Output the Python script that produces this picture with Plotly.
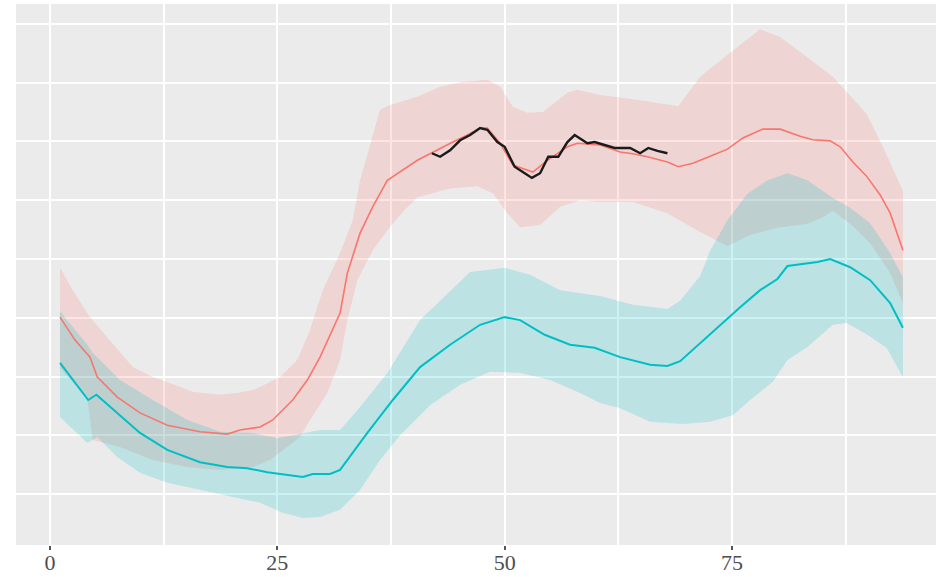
import plotly.graph_objects as go

# red series: fitted line and ribbon
red_x = [1.1, 2.75, 4.4, 5.2, 7.4, 9.9, 12.9, 16.5, 19.5, 20.9, 23.1, 24.5, 26.7, 28.3, 29.7, 31.9,
         32.7, 34.1, 35.5, 37.1, 40.4, 42.1, 44.3, 45.9, 47.3, 48.1, 49.5, 50.9, 53.1, 54.7,
         56.9, 58.0, 60.5, 62.7, 64.1, 65.7, 67.9, 69.1, 70.7, 72.6, 74.5, 76.2, 78.4, 80.3, 82.5,
         83.9, 85.8, 86.9, 88.3, 89.8, 91.3, 92.4, 93.8]
red_y = [3.01, 2.62, 2.33, 1.99, 1.65, 1.38, 1.17, 1.06, 1.02, 1.09, 1.14, 1.26, 1.60, 1.94, 2.33, 3.08,
         3.76, 4.44, 4.89, 5.34, 5.68, 5.82, 5.99, 6.11, 6.23, 6.23, 5.97, 5.60, 5.48, 5.68,
         5.91, 5.97, 5.94, 5.82, 5.79, 5.74, 5.65, 5.57, 5.63, 5.75, 5.87, 6.06, 6.21, 6.21, 6.09,
         6.03, 6.01, 5.91, 5.65, 5.41, 5.09, 4.78, 4.15]

red_hi_x = [1.1, 2.5, 4.4, 6.6, 9.1, 11.3, 13.2, 15.7, 18.7, 20.6, 22.3, 23.1, 25.3, 27.2, 28.6, 30.0,
            31.9, 33.3, 34.1, 36.3, 37.4, 40.4, 42.9, 45.1, 48.1, 49.5, 50.9, 52.5, 54.2, 56.9, 58.0,
            60.5, 64.1, 69.1, 71.5, 74.5, 78.1, 80.3, 83.9, 86.1, 89.8, 91.6, 93.8]
red_hi_y = [3.85, 3.47, 3.01, 2.62, 2.16, 1.99, 1.89, 1.74, 1.69, 1.72, 1.77, 1.82, 1.99, 2.28, 2.79, 3.47,
            4.10, 4.66, 5.34, 6.54, 6.62, 6.76, 6.93, 7.01, 7.05, 6.93, 6.59, 6.49, 6.50, 6.83, 6.88,
            6.79, 6.72, 6.60, 7.10, 7.47, 7.91, 7.78, 7.35, 7.10, 6.47, 5.91, 5.16]

red_lo_x = [1.1, 4.1, 4.7, 7.7, 11.3, 15.1, 18.7, 22.3, 24.2, 26.1, 27.5, 28.6, 30.5, 31.9, 32.7, 33.8,
            35.5, 37.1, 38.8, 40.4, 44.0, 47.0, 48.7, 50.3, 51.7, 53.9, 56.1, 58.3, 60.5, 64.1, 67.9, 71.5,
            74.5, 77.0, 80.0, 83.3, 85.0, 86.1, 88.3, 90.2, 92.4, 93.8]
red_lo_y = [2.14, 1.63, 0.92, 0.80, 0.58, 0.46, 0.41, 0.46, 0.58, 0.80, 0.97, 1.26, 1.72, 2.28, 2.96, 3.64,
            4.15, 4.49, 4.80, 5.05, 5.20, 5.24, 5.12, 4.78, 4.54, 4.58, 4.89, 5.00, 4.97, 4.97, 4.78, 4.46,
            4.22, 4.41, 4.53, 4.60, 4.71, 4.82, 4.56, 4.27, 3.76, 3.25]

# teal series: fitted line and ribbon
teal_x = [1.1, 4.1, 4.2, 5.1, 7.4, 9.9, 12.9, 16.5, 19.5, 21.7, 23.9, 26.1, 27.8, 28.9, 30.8, 31.9,
          34.9, 37.7, 40.7, 44.0, 47.3, 50.0, 51.7, 54.4, 57.2, 59.9, 62.7, 66.0, 67.9, 69.3,
          71.5, 73.4, 75.9, 78.1, 80.0, 81.1, 82.5, 84.4, 85.8, 88.0, 90.2, 92.4, 93.8]
teal_y = [2.23, 1.63, 1.60, 1.69, 1.38, 1.04, 0.75, 0.54, 0.46, 0.44, 0.37, 0.32, 0.29, 0.34, 0.34, 0.41,
          1.04, 1.60, 2.16, 2.54, 2.88, 3.01, 2.96, 2.71, 2.54, 2.49, 2.33, 2.20, 2.18, 2.26,
          2.57, 2.84, 3.18, 3.47, 3.66, 3.88, 3.91, 3.95, 4.00, 3.86, 3.64, 3.25, 2.83]

teal_hi_x = [1.1, 4.1, 4.7, 7.7, 11.3, 15.1, 18.7, 22.3, 25.0, 27.8, 29.7, 31.9, 34.1, 37.1, 40.7,
             46.2, 50.0, 52.8, 56.1, 60.5, 64.1, 67.9, 69.3, 71.5, 72.6, 74.5, 76.7, 78.9, 81.1, 83.3,
             86.1, 88.0, 90.2, 92.4, 93.8]
teal_hi_y = [3.11, 2.54, 2.40, 1.94, 1.60, 1.26, 1.06, 1.04, 0.95, 1.04, 1.09, 1.09, 1.48, 2.06, 2.96,
             3.78, 3.85, 3.73, 3.47, 3.37, 3.22, 3.15, 3.29, 3.71, 4.14, 4.66, 5.11, 5.34, 5.46, 5.34,
             5.04, 4.87, 4.61, 4.10, 3.69]

teal_lo_x = [1.1, 4.1, 5.2, 7.4, 9.9, 12.9, 16.5, 20.1, 23.1, 25.6, 27.8, 29.7, 31.9, 34.1, 36.3, 38.5,
             41.8, 45.1, 48.4, 51.7, 55.0, 58.3, 60.5, 62.7, 66.0, 69.6, 72.6, 75.1, 77.0, 79.5, 81.1,
             83.3, 86.1, 87.6, 89.8, 92.0, 93.8]
teal_lo_y = [1.31, 0.87, 0.97, 0.63, 0.36, 0.19, 0.07, -0.05, -0.15, -0.32, -0.41, -0.39, -0.27, 0.07, 0.58, 1.00,
             1.51, 1.86, 2.08, 2.06, 1.94, 1.72, 1.55, 1.46, 1.23, 1.19, 1.23, 1.34, 1.60, 1.91, 2.28,
             2.50, 2.88, 2.91, 2.72, 2.49, 1.99]

# observed values (black line)
obs_x = [42.0, 42.9, 44.0, 45.1, 46.2, 47.3, 48.1, 49.2, 50.0, 51.1, 52.0, 53.0, 53.9, 54.8, 55.9,
         56.9, 57.7, 59.1, 59.9, 61.0, 62.1, 63.8, 64.9, 65.8, 66.8, 67.9]
obs_y = [5.80, 5.74, 5.85, 6.02, 6.11, 6.23, 6.20, 5.99, 5.91, 5.57, 5.48, 5.38, 5.46, 5.74, 5.74,
         5.99, 6.11, 5.97, 5.99, 5.94, 5.89, 5.89, 5.80, 5.89, 5.84, 5.80]

x_ticks = [0, 25, 50, 75]

RED = "#F8766D"
TEAL = "#00BFC4"


def ribbon(hx, hy, lx, ly, color):
    return go.Scatter(
        x=hx + lx[::-1],
        y=hy + ly[::-1],
        fill="toself",
        fillcolor=color,
        mode="lines",
        line=dict(width=0),
        hoverinfo="skip",
        showlegend=False,
    )


fig = go.Figure()
fig.add_trace(ribbon(red_hi_x, red_hi_y, red_lo_x, red_lo_y, "rgba(248,118,109,0.2)"))
fig.add_trace(ribbon(teal_hi_x, teal_hi_y, teal_lo_x, teal_lo_y, "rgba(0,191,196,0.2)"))
fig.add_trace(go.Scatter(x=red_x, y=red_y, mode="lines", line=dict(color=RED, width=1.6), showlegend=False))
fig.add_trace(go.Scatter(x=teal_x, y=teal_y, mode="lines", line=dict(color=TEAL, width=2), showlegend=False))
fig.add_trace(go.Scatter(x=obs_x, y=obs_y, mode="lines", line=dict(color="#1a1a1a", width=2.4), showlegend=False))

fig.update_layout(
    width=936,
    height=577,
    margin=dict(l=16, r=0, t=4, b=32),
    paper_bgcolor="white",
    plot_bgcolor="#EBEBEB",
    showlegend=False,
)
fig.update_xaxes(
    range=[-3.74, 97.44],
    tickvals=x_ticks,
    ticks="outside",
    ticklen=4,
    tickwidth=1.5,
    tickcolor="#555555",
    tickfont=dict(family="Liberation Serif", size=22, color="#4D4D4D"),
    ticklabelstandoff=-6,
    automargin=False,
    showgrid=True,
    gridcolor="white",
    gridwidth=2,
    minor=dict(dtick=25, tick0=12.5, showgrid=True, gridcolor="white", gridwidth=2),
    zeroline=False,
    showline=False,
)
fig.update_yaxes(
    range=[-0.868, 8.34],
    tick0=0,
    dtick=1,
    showticklabels=False,
    ticks="",
    automargin=False,
    showgrid=True,
    gridcolor="white",
    gridwidth=2,
    zeroline=False,
    showline=False,
)

fig.write_html(
    "out.html",
    config={"displayModeBar": False},
    post_script="document.body.style.margin='0';",
)
